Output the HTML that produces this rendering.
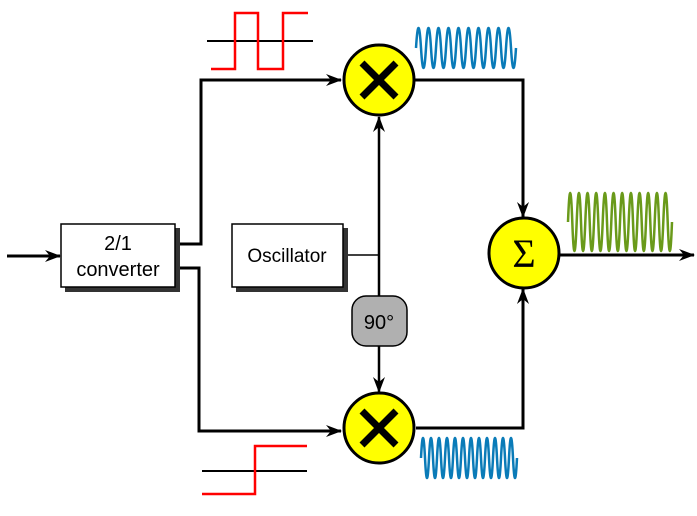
<!DOCTYPE html>
<html><head><meta charset="utf-8"><style>
html,body{margin:0;padding:0;background:#fff;}
svg{display:block;}
text{font-family:"Liberation Sans",sans-serif;}
</style></head><body>
<svg width="697" height="516" viewBox="0 0 697 516" xmlns="http://www.w3.org/2000/svg">
<defs>
<marker id="ar" markerWidth="16" markerHeight="12" refX="15" refY="6" orient="auto" markerUnits="userSpaceOnUse">
<path d="M0,0 L16,6 L0,12 L5,6 Z" fill="#000"/>
</marker>
</defs>
<line x1="7" y1="256" x2="60" y2="256" stroke="#000" stroke-width="3" marker-end="url(#ar)"/>
<rect x="65" y="228" width="115" height="64" fill="#333"/>
<rect x="61" y="224" width="114" height="63" fill="#fff" stroke="#000" stroke-width="1.5"/>
<text x="118" y="250" font-size="20" text-anchor="middle">2/1</text>
<text x="118" y="276" font-size="20" text-anchor="middle">converter</text>
<rect x="236" y="228" width="112" height="64" fill="#333"/>
<rect x="232" y="224" width="111" height="63" fill="#fff" stroke="#000" stroke-width="1.5"/>
<text x="287" y="262" font-size="19" text-anchor="middle">Oscillator</text>
<polyline points="180,244 201,244 201,80 341,80" fill="none" stroke="#000" stroke-width="3" marker-end="url(#ar)"/>
<polyline points="180,268 199,268 199,431 341,431" fill="none" stroke="#000" stroke-width="3" marker-end="url(#ar)"/>
<line x1="348" y1="255" x2="379" y2="255" stroke="#000" stroke-width="1.5"/>
<line x1="379" y1="296" x2="379" y2="117" stroke="#000" stroke-width="2.5" marker-end="url(#ar)"/>
<rect x="352" y="296" width="55" height="50" rx="14" fill="#b0b0b0" stroke="#000" stroke-width="1.5"/>
<text x="379" y="329" font-size="20" text-anchor="middle">90°</text>
<line x1="379" y1="346" x2="379" y2="392" stroke="#000" stroke-width="2.5" marker-end="url(#ar)"/>
<polyline points="415,80 523,80 523,217" fill="none" stroke="#000" stroke-width="3" marker-end="url(#ar)"/>
<polyline points="416,428 523,428 523,289" fill="none" stroke="#000" stroke-width="3" marker-end="url(#ar)"/>
<line x1="559" y1="255" x2="694" y2="255" stroke="#000" stroke-width="3" marker-end="url(#ar)"/>
<circle cx="379" cy="80" r="35" fill="#ff0" stroke="#000" stroke-width="3"/>
<path d="M362,63 L396,97 M396,63 L362,97" stroke="#000" stroke-width="7"/>
<circle cx="379" cy="428" r="35" fill="#ff0" stroke="#000" stroke-width="3"/>
<path d="M362,411 L396,445 M396,411 L362,445" stroke="#000" stroke-width="7"/>
<circle cx="524" cy="253" r="35" fill="#ff0" stroke="#000" stroke-width="3"/>
<text x="524" y="267" font-size="40" text-anchor="middle" style="font-family:'Liberation Serif',serif">Σ</text>
<line x1="207" y1="41" x2="313" y2="41" stroke="#000" stroke-width="2"/>
<polyline points="211,69 235,69 235,13 258,13 258,69 283,69 283,13 308,13" fill="none" stroke="#f00" stroke-width="2.5"/>
<line x1="202" y1="471" x2="307" y2="471" stroke="#000" stroke-width="2"/>
<polyline points="202,494 255,494 255,446 307,446" fill="none" stroke="#f00" stroke-width="2.5"/>
<path d="M416,48 Q418.5,8 421,48 T426,48 T431,48 T436,48 T441,48 T446,48 T451,48 T456,48 T461,48 T466,48 T471,48 T476,48 T481,48 T486,48 T491,48 T496,48 T501,48 T506,48 T511,48 T516,48" fill="none" stroke="#0a7bb8" stroke-width="2.5"/>
<path d="M421,458 Q423,418 425,458 T429,458 T433,458 T437,458 T441,458 T445,458 T449,458 T453,458 T457,458 T461,458 T465,458 T469,458 T473,458 T477,458 T481,458 T485,458 T489,458 T493,458 T497,458 T501,458 T505,458 T509,458 T513,458 T517,458" fill="none" stroke="#0a7bb8" stroke-width="2.5"/>
<path d="M568,222 Q570.2,164 572.3,222 T576.7,222 T581,222 T585.3,222 T589.7,222 T594,222 T598.3,222 T602.7,222 T607,222 T611.3,222 T615.7,222 T620,222 T624.3,222 T628.7,222 T633,222 T637.3,222 T641.7,222 T646,222 T650.3,222 T654.7,222 T659,222 T663.3,222 T667.7,222 T672,222" fill="none" stroke="#6a9a1a" stroke-width="2.5"/>
</svg>
</body></html>
